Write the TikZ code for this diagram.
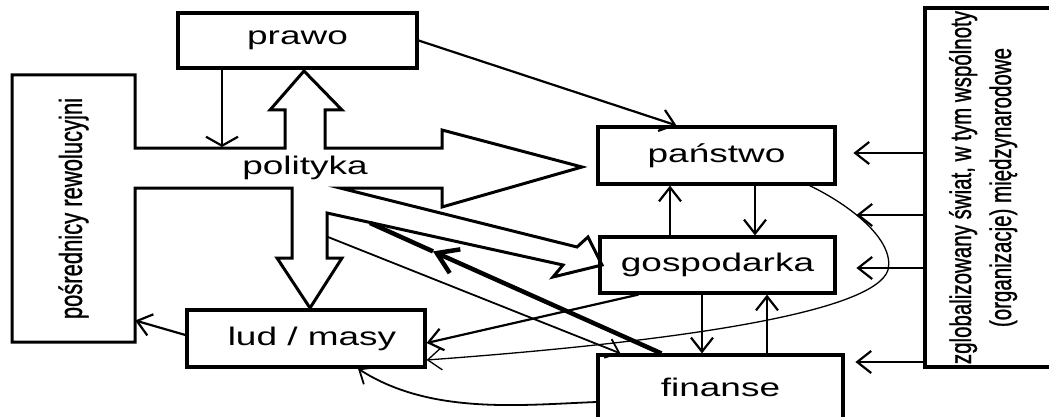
\documentclass[tikz,border=0pt]{standalone}
\usepackage{fontspec}
\setmainfont{Liberation Sans}
\newfontfamily\rotfont[FakeBold=1.2]{Liberation Sans}
\usepackage{graphicx}
\usetikzlibrary{arrows.meta}
\newcommand{\wtxt}[1]{\scalebox{1.45}[1]{\fontsize{25.5}{30}\selectfont #1}}
\begin{document}
\begin{tikzpicture}[x=1pt,y=-1pt,
  box/.style={draw, line width=3.2pt, inner sep=0pt},
  plain/.style={inner sep=0pt},
  conn/.style={line width=2.2pt, -{Straight Barb[length=14pt,width=22pt]}},
  flatarrow/.style={line width=2.2pt, -{Straight Barb[length=9pt,width=32pt]}},
  thinarrow/.style={line width=1.3pt, -{Straight Barb[length=14pt,width=22pt]}},
  midarrow/.style={line width=1.8pt, -{Straight Barb[length=12pt,width=20pt]}},
  boldarrow/.style={line width=4.5pt, -{Straight Barb[length=20pt,width=26pt]}},
  outline/.style={draw, line width=3pt, line join=miter}]
\useasboundingbox (0,0) rectangle (1049,417);
\clip (0,0) rectangle (1049,417);

% polityka block outline merged with the posrednicy box
\draw[outline] (12,75) -- (135,75) -- (135,148) -- (285,148) -- (285,110) -- (270,110)
  -- (304,71) -- (342,110) -- (325,110) -- (325,148) -- (442,148) -- (442,130)
  -- (582,167) -- (442,207) -- (442,188) -- (340,188) -- (577,247) -- (588,237)
  -- (602,265) -- (553,277) -- (563,265) -- (327,213) -- (327,258) -- (342,258)
  -- (310,308) -- (277,258) -- (292,258) -- (292,188) -- (135,188) -- (135,342)
  -- (12,342) -- cycle;

% nodes
\node[box, minimum width=239pt, minimum height=55pt] (prawo) at (297.5,40.5) {\wtxt{prawo}};
\node[box, minimum width=237pt, minimum height=57pt] (panstwo) at (716.5,155.5) {\wtxt{państwo}};
\node[box, minimum width=235pt, minimum height=56pt] (gosp) at (717.5,265) {\wtxt{gospodarka}};
\node[box, minimum width=245pt, minimum height=64pt] (finanse) at (720.5,387) {\wtxt{finanse}};
\node[box, minimum width=238pt, minimum height=57pt] (lud) at (306,338.5) {\hspace*{12pt}\wtxt{lud / masy}};
\node[plain, minimum width=123pt, minimum height=267pt] (posr) at (73.5,208.5)
  {\scalebox{1.45}[1]{\rotatebox{90}{\rotfont\fontsize{22}{26}\selectfont pośrednicy rewolucyjni}}};
\node[box, minimum width=135pt, minimum height=359pt] (glob) at (992.5,187.5)
  {\scalebox{1.45}[1]{\rotatebox{90}{\rotfont\fontsize{20.5}{27.6}\selectfont\begin{tabular}{@{}c@{}}zglobalizowany świat, w tym wspólnoty\\(organizacje) międzynarodowe\end{tabular}}}\hspace*{19pt}};
\node[plain] (polityka) at (305,168) {\wtxt{polityka}};

% named free ends
\coordinate (polTop) at (222,147);
\coordinate (polF) at (328,237);
\coordinate (boldTip) at (433,251.4);
\coordinate (boldEnd) at (370,223);

% connectors
\draw[flatarrow] ([xshift=-75.5pt]prawo.south) -- (polTop);
\draw[conn] (prawo.east) -- ([xshift=-40pt]panstwo.north);
\draw[conn] ([xshift=-47.5pt]gosp.north) -- ([xshift=-46.5pt]panstwo.south);
\draw[conn] ([xshift=38.5pt]panstwo.south) -- ([xshift=37.5pt]gosp.north);
\draw[conn] ([xshift=-15.5pt]gosp.south) -- ([xshift=-18.5pt]finanse.north);
\draw[conn] ([xshift=46.5pt]finanse.north) -- ([xshift=49.5pt]gosp.south);

\draw[conn] ([yshift=34.5pt]glob.west) -- ++(-70,0);
\draw[conn] ([yshift=-27.5pt]glob.west) -- ++(-67,0);
\draw[conn] ([yshift=-80.5pt]glob.west) -- ++(-67,0);
\draw[conn] ([yshift=-174.5pt]glob.west) -- ++(-68,0);

\draw[thinarrow] ([xshift=-27pt]panstwo.south east) .. controls (850,205) and (895,240) .. (888,270)
  .. controls (875,310) and (700,340) .. ([yshift=-21.5pt]lud.east);
\draw[conn] ([xshift=40pt]gosp.south west) -- ([yshift=-4.5pt]lud.east);
\draw[midarrow] (polF) -- ([xshift=24pt]finanse.north west);
\draw[boldarrow] ([xshift=65pt]finanse.north west) -- (boldTip);
\draw[line width=4.5pt] (boldTip) -- (boldEnd);
\draw[conn] ([yshift=3.5pt]lud.west) -- ([yshift=-112pt]posr.east);
\draw[midarrow] ([yshift=-15pt]finanse.west) .. controls (520,405) and (430,415) .. ([xshift=52pt]lud.south);
\end{tikzpicture}
\end{document}
